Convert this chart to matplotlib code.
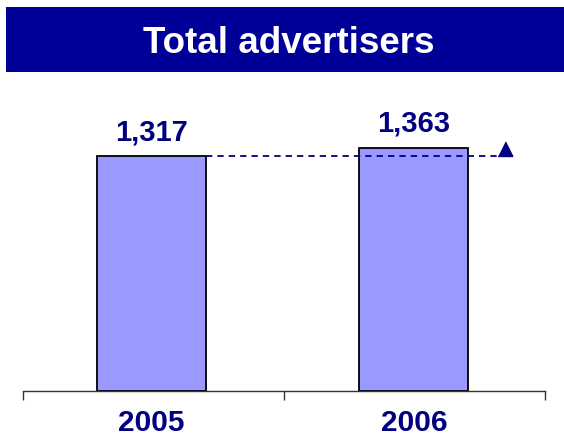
import matplotlib
matplotlib.use("Agg")
import matplotlib.pyplot as plt
from matplotlib.patches import Rectangle

categories = ["2005", "2006"]
values = [1317, 1363]
value_labels = ["1,317", "1,363"]
title = "Total advertisers"

plt.rcParams['font.family'] = ['Liberation Sans', 'DejaVu Sans']

fig = plt.figure(figsize=(5.64, 4.36), dpi=100)
W, H = 564, 436

# banner
fig.patches.append(Rectangle((6 / W, 1 - 72 / H), 1 - 6 / W, 65 / H,
                             transform=fig.transFigure, facecolor='#000099',
                             edgecolor='none'))
fig.text(289 / W, 1 - 53 / H, title, color='white', fontsize=26.5,
         fontweight='bold', ha='center', va='baseline')

ax = fig.add_axes([23 / W, 45 / H, 522 / W, 311 / H])
x = list(range(len(categories)))
bar_w = 0.416
ax.bar(x, values, width=bar_w, color='#9999FF', edgecolor='black',
       linewidth=1.3, zorder=2)

xl, xr = -0.49, 1.5
ax.set_xlim(xl, xr)
ax.set_ylim(0, values[0] * 311 / 235)

for xi, v, lab in zip(x, values, value_labels):
    ax.annotate(lab, (xi, v), xytext=(0, 11.5), textcoords='offset points',
                ha='center', va='baseline', fontsize=21, fontweight='bold',
                color='#000080')

# dashed reference line from 2005 level with triangle
tri_x = 1.349
ax.plot([x[0] + bar_w / 2, tri_x - 0.02], [values[0], values[0]],
        linestyle=(0, (3.5, 2.8)), color='#000080', linewidth=1.3,
        zorder=3)
tri = [(-0.5, 0), (0.5, 0), (0, 1)]
ax.plot([tri_x], [values[0]], marker=tri, markersize=21,
        color='#000080', linestyle='none', zorder=4)

for s in ['top', 'right', 'left']:
    ax.spines[s].set_visible(False)
ax.spines['bottom'].set_color('#333333')
ax.spines['bottom'].set_linewidth(1.0)
ax.set_yticks([])
ax.set_xticks(x)
ax.set_xticklabels(categories, fontsize=21.5, fontweight='bold', color='#000080')
ax.tick_params(axis='x', which='major', length=0, pad=13)
ax.set_xticks([xl, (xl + xr) / 2, xr], minor=True)
ax.tick_params(axis='x', which='minor', length=6.5, width=1.0, color='#333333')

fig.savefig("out.png", dpi=100)
